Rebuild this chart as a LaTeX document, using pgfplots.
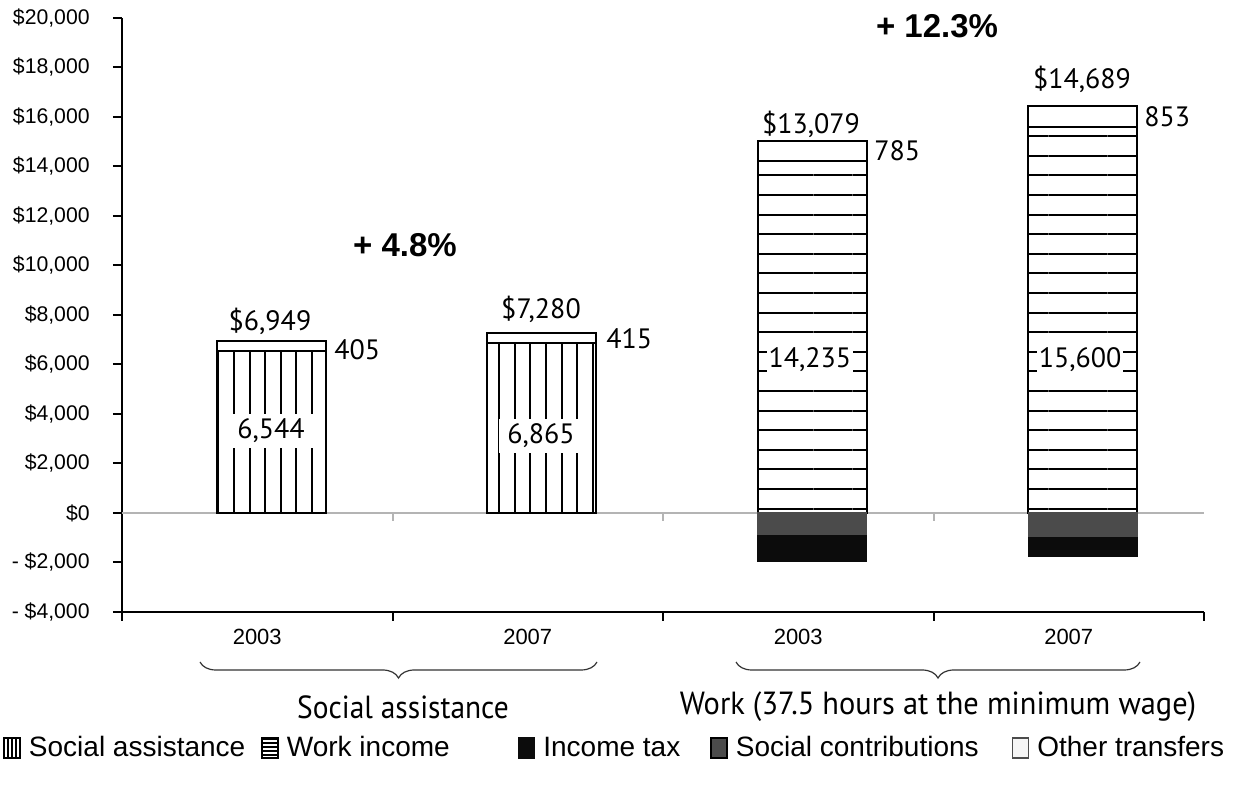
\documentclass[border=0pt]{standalone}
\usepackage{pgfplots}
\pgfplotsset{compat=1.18}
\usepackage{fontspec}
\setmainfont{Liberation Sans}
\newfontfamily\pts{PT Sans}
\usetikzlibrary{patterns.meta,decorations.pathreplacing}
\definecolor{scgray}{HTML}{4B4B4B}
\definecolor{itblack}{HTML}{0C0C0C}
\definecolor{zl}{HTML}{B4B4B4}
\newcommand{\dl}{\pts\fontsize{14}{16}\selectfont}
\pgfplotsset{
  base/.style={
    at={(0,0)}, anchor=south west,
    scale only axis, width=541pt, height=297pt,
    xmin=-0.5, xmax=3.5, ymin=-4000, ymax=20000,
    clip=false, scaled y ticks=false,
  },
}
\begin{document}
\begin{tikzpicture}
\path[use as bounding box] (-61pt,-89.5pt) rectangle (568pt,306pt);
% positive components
\begin{axis}[base,
  axis lines*=left,
  axis line style={line width=1pt, black},
  tick align=outside,
  ytick={-4000,-2000,0,2000,4000,6000,8000,10000,12000,14000,16000,18000,20000},
  yticklabels={{- \$4,000},{- \$2,000},{\$0},{\$2,000},{\$4,000},{\$6,000},{\$8,000},{\$10,000},{\$12,000},{\$14,000},{\$16,000},{\$18,000},{\$20,000}},
  yticklabel style={font=\fontsize{10.6}{12}\selectfont, anchor=east, inner sep=0pt, xshift=-11.5pt},
  ytick style={line width=1pt, black},
  major tick length=4.5pt,
  xtick={0,1,2,3},
  xticklabels={2003,2007,2003,2007},
  xticklabel style={font=\fontsize{11}{13}\selectfont, inner sep=0pt, yshift=-4pt},
  minor xtick={-0.5,0.5,1.5,2.5,3.5},
  minor tick length=4.5pt,
  minor x tick style={line width=1pt, black},
  major x tick style={draw=none},
  extra y ticks={0},
  extra y tick labels={},
  extra y tick style={grid=major, major grid style={zl, line width=1.2pt}, major tick length=0pt},
  ybar stacked, bar width=54.5pt, bar shift=7pt,
]
\addplot[forget plot, fill=white, draw=black, line width=1pt,
  postaction={pattern={Lines[angle=90,distance=7.8pt,line width=1pt]}}]
  coordinates {(0,6544) (1,6865) (2,0) (3,0)};
\addplot[forget plot, fill=white, draw=black, line width=1pt,
  postaction={pattern={Lines[angle=0,distance=9.8pt,yshift=4pt,line width=1pt]}}]
  coordinates {(0,0) (1,0) (2,14235) (3,15600)};
\addplot[forget plot, fill=white, draw=black, line width=1pt]
  coordinates {(0,405) (1,415) (2,785) (3,853)};
\end{axis}
% negative components
\begin{axis}[base, hide axis,
  ybar stacked, bar width=54.5pt, bar shift=7pt,
  legend columns=5,
  legend image code/.code={\draw[#1, line width=0.8pt] (0pt,-5pt) rectangle (8pt,5pt);},
  legend style={at={(axis description cs:-0.11,-0.229)}, anchor=west,
    draw=none, fill=none, inner sep=0pt,
    font=\fontsize{14}{16}\selectfont,
    nodes={inner sep=0pt},
    /tikz/every odd column/.style={column sep=4pt},
    /tikz/column 2/.style={column sep=8pt},
    /tikz/column 4/.style={column sep=34pt},
    /tikz/column 6/.style={column sep=15pt},
    /tikz/column 8/.style={column sep=16.5pt},
  },
]
\addplot[forget plot, fill=scgray, draw=scgray, line width=0.6pt]
  coordinates {(2,-870) (3,-930)};
\addplot[forget plot, fill=itblack, draw=itblack, line width=0.6pt]
  coordinates {(2,-1071) (3,-834)};
\addlegendimage{draw=black, fill=white, postaction={pattern={Lines[angle=90,distance=2pt,line width=0.6pt]}}}
\addlegendentry{Social assistance}
\addlegendimage{draw=black, fill=white, postaction={pattern={Lines[angle=0,distance=2pt,line width=0.6pt]}}}
\addlegendentry{Work income}
\addlegendimage{draw=itblack, fill=itblack}
\addlegendentry{Income tax}
\addlegendimage{draw=black, fill=scgray}
\addlegendentry{Social contributions}
\addlegendimage{draw=black!70, fill=black!4}
\addlegendentry{Other transfers}
% gray ticks on zero line
\draw[zl, line width=1pt] (axis cs:0.5,0) -- ([yshift=-4pt]axis cs:0.5,0);
\draw[zl, line width=1pt] (axis cs:1.5,0) -- ([yshift=-4pt]axis cs:1.5,0);
\draw[zl, line width=1pt] (axis cs:2.5,0) -- ([yshift=-4pt]axis cs:2.5,0);
% data labels
\node[font=\dl] at (axis cs:0.047,7758) {\$6,949};
\node[font=\dl, anchor=west, inner sep=0pt] at (axis cs:0.284,6586) {405};
\node[font=\dl, fill=white, inner xsep=4pt, inner ysep=2.5pt] at (axis cs:0.051,3313) {6,544};
\node[font=\dl] at (axis cs:1.049,8242) {\$7,280};
\node[font=\dl, anchor=west, inner sep=0pt] at (axis cs:1.289,7030) {415};
\node[font=\dl, fill=white, inner xsep=4pt, inner ysep=2.5pt] at (axis cs:1.049,3111) {6,865};
\node[font=\dl] at (axis cs:2.047,15717) {\$13,079};
\node[font=\dl, anchor=west, inner sep=0pt] at (axis cs:2.280,14626) {785};
\node[font=\dl, fill=white, inner sep=1pt] at (axis cs:2.043,6182) {14,235};
\node[font=\dl] at (axis cs:3.049,17535) {\$14,689};
\node[font=\dl, anchor=west, inner sep=0pt] at (axis cs:3.278,16000) {853};
\node[font=\dl, fill=white, inner sep=1pt] at (axis cs:3.042,6182) {15,600};
\node[font=\bfseries\fontsize{16.5}{19}\selectfont] at (axis cs:0.546,10828) {+ 4.8\%};
\node[font=\bfseries\fontsize{16.5}{19}\selectfont] at (axis cs:2.513,19677) {+ 12.3\%};
\end{axis}
% braces and group labels
\draw[black!80, line width=0.6pt, decorate, decoration={brace, mirror, amplitude=8pt}]
  (39pt,-25pt) -- (237.5pt,-25pt);
\draw[black!80, line width=0.6pt, decorate, decoration={brace, mirror, amplitude=8pt}]
  (307pt,-25pt) -- (509pt,-25pt);
\node[font=\pts\fontsize{16}{18}\selectfont] at (140.5pt,-47.5pt) {\scalebox{0.92}[1]{Social assistance}};
\node[font=\pts\fontsize{16}{18}\selectfont] at (408pt,-47.5pt) {\scalebox{0.95}[1]{Work (37.5 hours at the minimum wage)}};
\end{tikzpicture}
\end{document}
